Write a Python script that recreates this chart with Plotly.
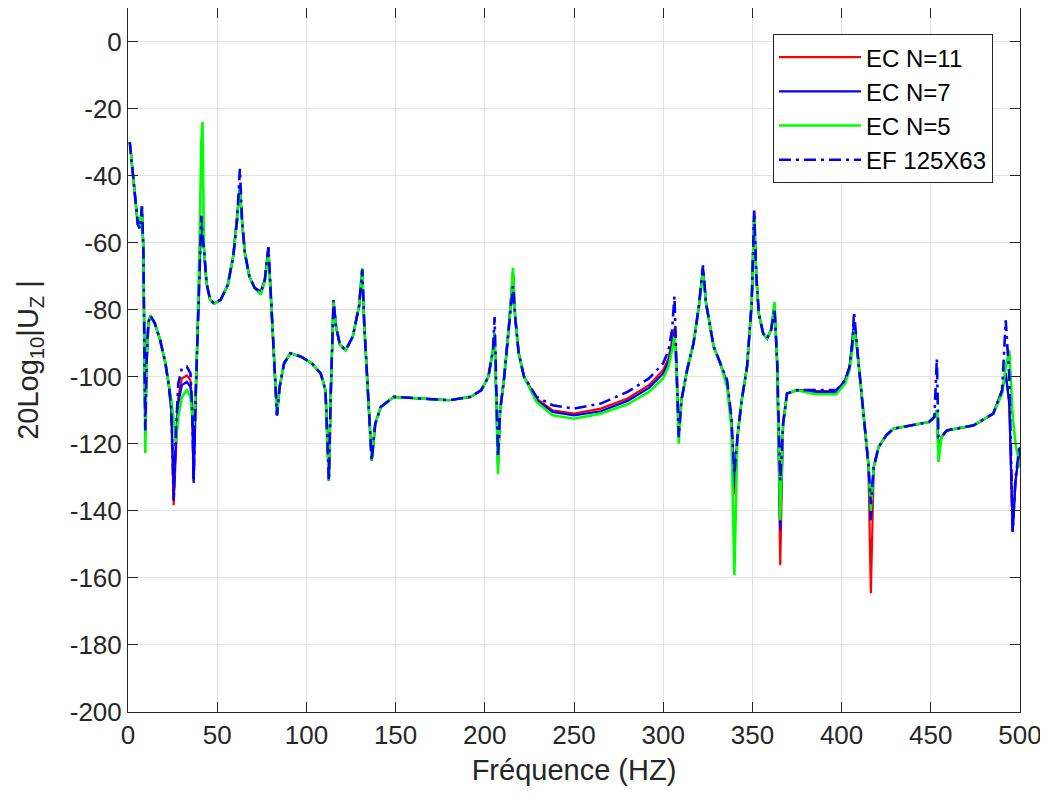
import plotly.graph_objects as go

# ---------------- data ----------------
FREQ_HZ = [
    1, 2.6, 4.5, 5.5, 6.7, 7.8, 8.6, 9.2, 9.7, 10.4, 11.4, 12.5, 15, 18, 21, 23,
    24.3, 25.6, 26.9, 28.2, 30.2, 33, 35, 36, 36.8, 37.8, 39, 40.3, 41.1, 41.8,
    42.6, 44, 46, 48.3, 52, 56, 59, 61.2, 62.7, 64, 65.5, 68, 71, 74.5, 76.7,
    78.7, 80.2, 82, 83.5, 85, 87.5, 91, 97, 103, 108, 110.7, 112.6, 113.6,
    115.2, 116.6, 118.8, 122, 126, 129.5, 131.3, 132.4, 134.5, 136.6, 138.6,
    141.7, 149, 164, 180, 192, 198, 202, 204.6, 205.5, 206.3, 207.4, 208.6,
    210.7, 213, 214.6, 215.8, 217, 219, 222, 229, 238, 250, 265, 280, 292, 300,
    303, 305, 306.3, 307.4, 308.7, 310.2, 313.4, 317, 320, 322.3, 324, 328.3,
    332, 335.8, 338.2, 339.9, 341.6, 344, 347, 349.6, 351, 352.2, 353.6, 356,
    358.2, 360.5, 362.4, 363.9, 365.6, 367.2, 369.4, 375, 385, 397, 402, 404.5,
    406, 407, 408.6, 412.3, 415, 416.4, 418, 420.7, 425, 429, 440, 449, 452,
    453.4, 454.3, 456, 459, 474, 485, 490, 492, 494, 495.9, 497.5, 500,
]

EF_125X63 = [
    -30, -39.4, -50.4, -54.5, -55.8, -49.2, -62, -88, -116, -96, -84, -81.7, -84, -89, -96, -103,
    -110, -137, -116, -102, -97.5, -97, -99, -110, -131, -108, -86, -62, -52, -58,
    -62, -72, -77, -78.2, -77, -72.5, -64, -53, -38, -54, -63, -70, -73.5, -74.7, -71,
    -61.3, -76, -95, -111.5, -103, -96, -93, -94, -96, -99, -104, -131, -106,
    -77.2, -85, -90.5, -92.1, -88, -79, -68, -84, -105, -125, -114,
    -109, -106, -106.4, -107, -106, -104, -100, -92, -82.2, -104, -124, -110,
    -101, -88, -78, -73, -82, -93, -100, -106, -108.5, -109.5, -108, -104.5, -100.5, -96,
    -92, -86, -76, -97, -118, -107, -98, -90, -79, -66.8, -78, -91,
    -96, -101, -112, -129, -118, -107, -97, -78, -50.4, -70, -81.2, -87,
    -88.6, -86, -79.6, -96, -131, -114, -105, -104, -104, -104, -101, -97,
    -90, -80.7, -91, -111, -126, -138, -127, -121, -117.5, -115.5, -114.5, -113.5, -112,
    -94.6, -118, -118, -116, -114.5, -111, -104, -83.2, -100, -146, -130, -120,
]

EC_N11 = [
    -30, -39.4, -50.4, -54.5, -55.8, -49.2, -62, -88, -117, -96, -84, -81.7, -84, -89, -96, -103,
    -110, -138.3, -121, -106, -100.5, -99.6, -101, -108, -131, -108, -86, -62, -52, -56,
    -62, -72, -77, -78.2, -77, -72.5, -64, -53, -43.5, -54, -63, -70, -73.5, -74.7, -71,
    -61.5, -76, -95, -111.5, -103, -96, -93, -94, -96, -99, -104, -131, -106,
    -77.2, -85, -90.5, -92.1, -88, -79, -68, -84, -105, -125, -114,
    -109, -106, -106.4, -107, -106, -104, -100, -92, -87, -104, -126, -110,
    -101, -88, -78, -69, -82, -93, -100, -106.5, -110, -111, -109.5, -106.5, -102.5, -98,
    -94.5, -89, -85.6, -97, -117, -107, -98, -90, -79, -67.5, -78, -91,
    -96, -101.5, -113, -135, -118, -107, -97, -78, -51, -70, -81.2, -87,
    -88.6, -86, -78.5, -96, -156.2, -114, -105, -104, -104.3, -104.3, -101, -97,
    -90, -84, -91, -111, -126, -164.6, -127, -121, -117.5, -115.5, -114.5, -113.5, -112,
    -110, -122, -118, -116, -114.5, -111, -104, -99, -108, -146.3, -131, -121,
]

EC_N7 = [
    -30, -39.4, -50.4, -54.5, -55.8, -49.2, -62, -88, -116, -96, -84, -81.7, -84, -89, -96, -103,
    -110, -134, -118, -108, -102.5, -101.5, -103, -110, -131.7, -108, -86, -62, -52, -56,
    -62, -72, -77, -78.2, -77, -72.5, -64, -53, -43.5, -54, -63, -70, -73.5, -74.7, -71,
    -61.5, -76, -95, -111.5, -103, -96, -93, -94, -96, -99, -104, -131, -106,
    -77.2, -85, -90.5, -92.1, -88, -79, -68, -84, -105, -125, -114,
    -109, -106, -106.4, -107, -106, -104, -100, -92, -87, -104, -126, -110,
    -101, -88, -78, -69, -82, -93, -100, -107, -110.5, -111.5, -110.3, -107.2, -103.3, -99,
    -95.5, -90.5, -87, -97, -117, -107, -98, -90, -79, -67.5, -78, -91,
    -96, -102, -113, -133, -118, -107, -97, -78, -51, -70, -81.2, -87,
    -88.6, -86, -78.5, -96, -145.8, -114, -105, -104, -104.5, -104.5, -101, -97,
    -90, -84, -91, -111, -126, -142.8, -127, -121, -117.5, -115.5, -114.5, -113.5, -112,
    -110, -122, -118, -116, -114.5, -111, -104, -99, -108, -146.3, -131, -121,
]

EC_N5 = [
    -30, -39.4, -50.4, -54.5, -55.8, -49.2, -62, -88, -122.8, -96, -84, -81.7, -84, -89, -96, -103,
    -107, -113, -119.4, -112, -106, -104, -106, -112, -114.5, -106, -86, -55, -30, -24,
    -62, -72, -77, -78.2, -77, -72.5, -64, -53, -44, -54, -63, -70, -73.5, -75.5, -71.5,
    -63, -76, -95, -111.5, -103, -96, -93, -94, -96, -99, -104, -131, -106,
    -77.5, -85, -90.5, -92.1, -88, -79, -67.5, -84, -105, -125, -114,
    -109, -106, -106.4, -107, -106, -104, -100, -92, -87, -104, -129, -110,
    -101, -88, -78, -67.5, -82, -93, -100, -107.5, -111.5, -112.5, -111, -108.2, -104.5, -100.5,
    -97, -92, -88, -97, -120, -107, -98, -90, -79, -69, -78, -91,
    -96, -103, -115, -159.2, -118, -107, -97, -78, -52, -70, -81.2, -87,
    -88.6, -86, -77.7, -96, -142.8, -114, -105, -104, -105.2, -105.2, -102, -98,
    -92, -86.1, -91, -111, -126, -140, -127, -121, -117.5, -115.5, -114.5, -113.5, -112,
    -110, -125.4, -118, -116, -114.5, -111, -105, -97, -92.1, -112, -120, -127,
]

X_TICKS = [0, 50, 100, 150, 200, 250, 300, 350, 400, 450, 500]
Y_TICKS = [0, -20, -40, -60, -80, -100, -120, -140, -160, -180, -200]

SERIES = [
    ("EC N=11", EC_N11, "#ff0000", "solid", 2.2),
    ("EC N=7", EC_N7, "#0000ff", "solid", 2.2),
    ("EC N=5", EC_N5, "#00ff00", "solid", 2.6),
    ("EF 125X63", EF_125X63, "#0000ff", "12px,5px,3px,5px", 2.6),
]

# ---------------- figure ----------------
fig = go.Figure()
for i, (name, vals, color, dash, width) in enumerate(SERIES):
    fig.add_trace(go.Scatter(
        x=FREQ_HZ, y=vals, mode="lines", name=name,
        legendgroup=f"g{i}",
        line=dict(color=color, width=width, dash=dash),
    ))

axis_common = dict(
    showline=True, linecolor="#262626", linewidth=1, mirror="ticks",
    ticks="inside", ticklen=10, tickwidth=1, tickcolor="#262626",
    showgrid=True, gridcolor="#e3e3e3", gridwidth=1,
    zeroline=False, automargin=False, ticklabeloverflow="allow",
    tickfont=dict(family="Liberation Sans, Arial, sans-serif", size=26, color="#262626"),
)

fig.update_layout(
    width=1040, height=788,
    margin=dict(l=120, r=28, t=0, b=84),
    paper_bgcolor="white", plot_bgcolor="white",
    font=dict(family="Liberation Sans, Arial, sans-serif", color="#262626"),
    xaxis=dict(
        range=[0, 500], tickvals=X_TICKS, ticktext=[str(v) for v in X_TICKS],
        title=dict(text="Fréquence (HZ)", font=dict(size=29, color="#262626"), standoff=10),
        **axis_common,
    ),
    yaxis=dict(
        range=[-200, 10], tickvals=Y_TICKS, ticktext=[str(v) for v in Y_TICKS],
        title=dict(text="20Log<sub>10</sub>|U<sub>Z</sub> |", font=dict(size=29, color="#262626"), standoff=22),
        **axis_common,
    ),
    legend=dict(
        x=0.9697, y=0.963, xanchor="right", yanchor="top",
        bgcolor="white", bordercolor="#262626", borderwidth=1,
        font=dict(size=24, color="#000000"),
        traceorder="grouped", tracegroupgap=0, itemwidth=82,
    ),
    showlegend=True,
)

fig.write_html("out.html")
